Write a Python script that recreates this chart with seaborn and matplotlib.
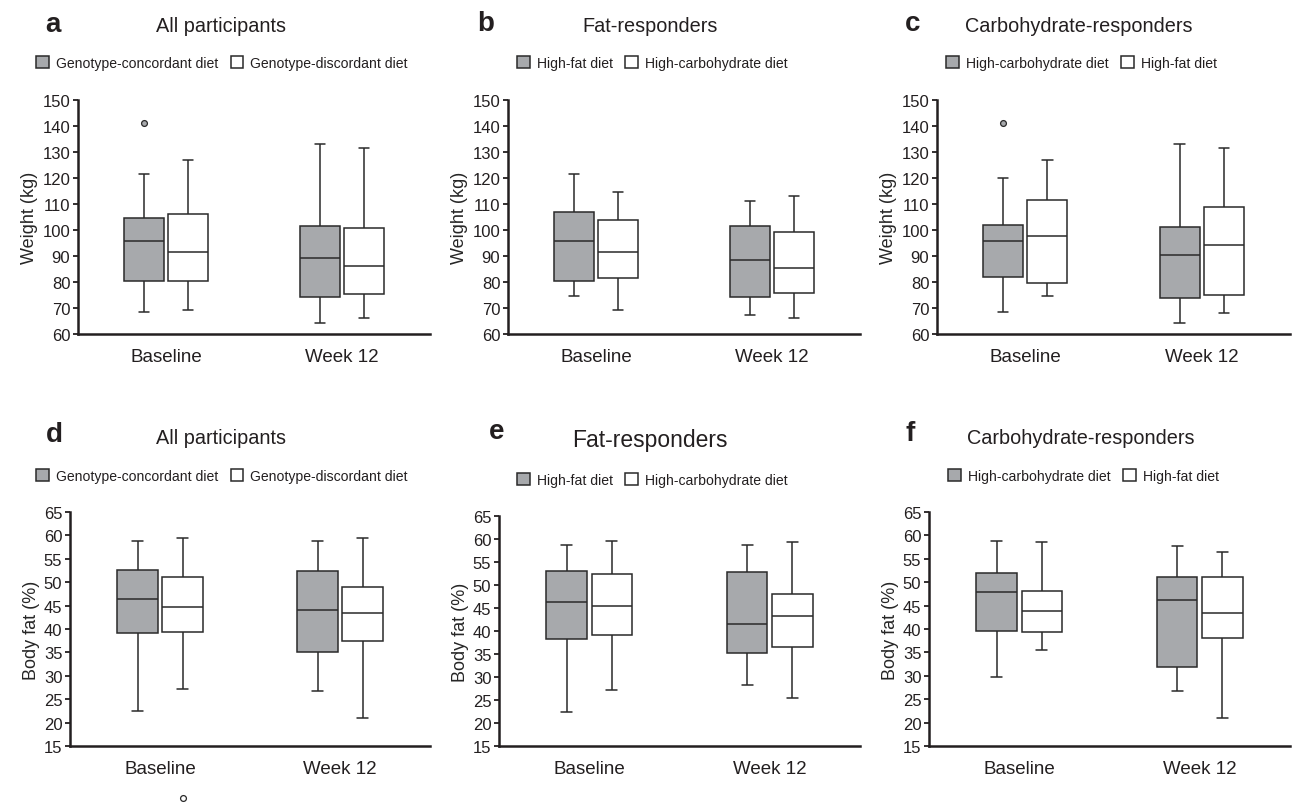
import matplotlib
matplotlib.use("Agg")
import matplotlib.pyplot as plt
import pandas as pd
import seaborn as sns

# categories
timepoints = ["Baseline", "Week 12"]
all_groups = ["Genotype-concordant diet", "Genotype-discordant diet"]
fat_groups = ["High-fat diet", "High-carbohydrate diet"]
carb_groups = ["High-carbohydrate diet", "High-fat diet"]

# five-number summaries: [min, Q1, median, Q3, max]
# first list = Baseline, second = Week 12
weight_all_conc = [[68.3, 80.5, 95.6, 104.6, 121.7], [64.1, 74.1, 89.1, 101.7, 133.2]]
weight_all_disc = [[69.1, 80.4, 91.7, 106.0, 126.8], [66.3, 75.4, 86.2, 100.9, 131.7]]
weight_fat_hf = [[74.6, 80.5, 95.6, 106.8, 121.7], [67.4, 74.1, 88.6, 101.7, 111.0]]
weight_fat_hc = [[69.1, 81.7, 91.5, 103.8, 114.7], [66.3, 75.9, 85.5, 99.4, 113.1]]
weight_carb_hc = [[68.3, 82.1, 95.6, 101.9, 119.9], [64.1, 73.8, 90.4, 101.3, 133.2]]
weight_carb_hf = [[74.6, 79.7, 97.6, 111.5, 126.8], [67.9, 75.0, 94.1, 109.0, 131.7]]

bodyfat_all_conc = [[22.5, 39.2, 46.4, 52.7, 58.9], [26.7, 35.1, 44.0, 52.3, 58.9]]
bodyfat_all_disc = [[27.2, 39.4, 44.6, 51.2, 59.4], [20.9, 37.5, 43.4, 48.9, 59.4]]
bodyfat_fat_hf = [[22.4, 38.2, 46.2, 53.1, 58.6], [28.2, 35.3, 41.5, 52.8, 58.8]]
bodyfat_fat_hc = [[27.2, 39.2, 45.5, 52.4, 59.5], [25.4, 36.6, 43.3, 48.1, 59.3]]
bodyfat_carb_hc = [[29.8, 39.6, 47.9, 51.9, 58.9], [26.7, 31.9, 46.2, 51.2, 57.7]]
bodyfat_carb_hf = [[35.6, 39.4, 43.9, 48.1, 58.6], [20.9, 38.1, 43.4, 51.2, 56.4]]

# outliers: (timepoint, group, value)
weight_all_outliers = [("Baseline", all_groups[0], 141.3)]
weight_carb_outliers = [("Baseline", carb_groups[0], 141.3)]
bodyfat_all_outliers = [("Baseline", all_groups[1], 3.8)]

weight_ticks = [60, 70, 80, 90, 100, 110, 120, 130, 140, 150]
bodyfat_ticks = [15, 20, 25, 30, 35, 40, 45, 50, 55, 60, 65]

GREY = "#a7a9ac"
LINE = "#2a2a2a"
W, H = 1293, 804

sns.set_style("ticks")
plt.rcParams["font.family"] = ["Liberation Sans", "DejaVu Sans"]
plt.rcParams["text.color"] = "#231f20"

# layout in pixels: axes (left, right, top, bottom), letter/title/legend placement
panels = [
    dict(letter="a", title="All participants", groups=all_groups,
         stats=[weight_all_conc, weight_all_disc], outliers=weight_all_outliers,
         ylabel="Weight (kg)", ticks=weight_ticks,
         box=(78, 430, 101, 335), letter_xy=(53, 32), title_xy=(221, 32), title_size=14.3,
         legend_xy=(36, 64)),
    dict(letter="b", title="Fat-responders", groups=fat_groups,
         stats=[weight_fat_hf, weight_fat_hc], outliers=[],
         ylabel="Weight (kg)", ticks=weight_ticks,
         box=(508, 860, 101, 335), letter_xy=(486, 31), title_xy=(650, 32), title_size=14.3,
         legend_xy=(517, 64)),
    dict(letter="c", title="Carbohydrate-responders", groups=carb_groups,
         stats=[weight_carb_hc, weight_carb_hf], outliers=weight_carb_outliers,
         ylabel="Weight (kg)", ticks=weight_ticks,
         box=(937, 1290, 101, 335), letter_xy=(913, 31), title_xy=(1079, 32), title_size=14.3,
         legend_xy=(946, 64)),
    dict(letter="d", title="All participants", groups=all_groups,
         stats=[bodyfat_all_conc, bodyfat_all_disc], outliers=bodyfat_all_outliers,
         ylabel="Body fat (%)", ticks=bodyfat_ticks,
         box=(70, 430, 513, 747), letter_xy=(54, 442), title_xy=(221, 444), title_size=14.3,
         legend_xy=(36, 477)),
    dict(letter="e", title="Fat-responders", groups=fat_groups,
         stats=[bodyfat_fat_hf, bodyfat_fat_hc], outliers=[],
         ylabel="Body fat (%)", ticks=bodyfat_ticks,
         box=(499, 860, 517, 747), letter_xy=(497, 439), title_xy=(650, 447), title_size=16.5,
         legend_xy=(517, 481)),
    dict(letter="f", title="Carbohydrate-responders", groups=carb_groups,
         stats=[bodyfat_carb_hc, bodyfat_carb_hf], outliers=[],
         ylabel="Body fat (%)", ticks=bodyfat_ticks,
         box=(929, 1290, 513, 747), letter_xy=(910, 441), title_xy=(1081, 444), title_size=14.3,
         legend_xy=(948, 477)),
]

fig = plt.figure(figsize=(W / 100, H / 100), dpi=100)

for p in panels:
    l, r, t, b = p["box"]
    ax = fig.add_axes([l / W, 1 - b / H, (r - l) / W, (b - t) / H])

    rows = []
    for grp, series in zip(p["groups"], p["stats"]):
        for tp, five in zip(timepoints, series):
            for v in five:
                rows.append({"time": tp, "diet": grp, "value": v})
    df = pd.DataFrame(rows)
    pal = {p["groups"][0]: GREY, p["groups"][1]: "white"}

    sns.boxplot(data=df, x="time", y="value", hue="diet", order=timepoints,
                hue_order=p["groups"], palette=pal, saturation=1, width=0.5, gap=0.1,
                whis=(0, 100), linecolor=LINE, linewidth=1.1, capwidths=0.06, ax=ax)

    if p["outliers"]:
        out = pd.DataFrame(p["outliers"], columns=["time", "diet", "value"])
        sns.pointplot(data=out, x="time", y="value", hue="diet", order=timepoints,
                      hue_order=p["groups"], palette=pal, dodge=0.25, errorbar=None,
                      markers="o", linestyle="none", markersize=4.2,
                      markeredgecolor=LINE, markeredgewidth=0.9, legend=False,
                      clip_on=False, ax=ax)

    ax.set_xlim(-0.5, 1.5)
    ax.set_ylim(p["ticks"][0], p["ticks"][-1])
    ax.set_yticks(p["ticks"])
    ax.set_xlabel("")
    ax.set_ylabel(p["ylabel"], fontsize=13, labelpad=3)
    sns.despine(ax=ax)
    for side in ["left", "bottom"]:
        ax.spines[side].set_linewidth(1.8)
        ax.spines[side].set_color("#231f20")
    ax.tick_params(axis="y", labelsize=12, length=3.5, width=1.3, pad=2, colors="#231f20")
    ax.tick_params(axis="x", labelsize=13.5, length=0, pad=10, colors="#231f20")

    lx, ly = p["legend_xy"]
    sns.move_legend(ax, "center left", bbox_to_anchor=(lx / W, 1 - ly / H),
                    bbox_transform=fig.transFigure, ncol=2, frameon=False, title=None,
                    fontsize=10.1, handlelength=0.9, handleheight=0.9, handletextpad=0.5,
                    columnspacing=0.9, borderpad=0, borderaxespad=0)

    fx, fy = p["letter_xy"]
    fig.text(fx / W, 1 - fy / H, p["letter"], fontsize=20, fontweight="bold",
             ha="center", va="baseline")
    tx, ty = p["title_xy"]
    fig.text(tx / W, 1 - ty / H, p["title"], fontsize=p["title_size"],
             ha="center", va="baseline")

fig.savefig("out.png", dpi=100)
